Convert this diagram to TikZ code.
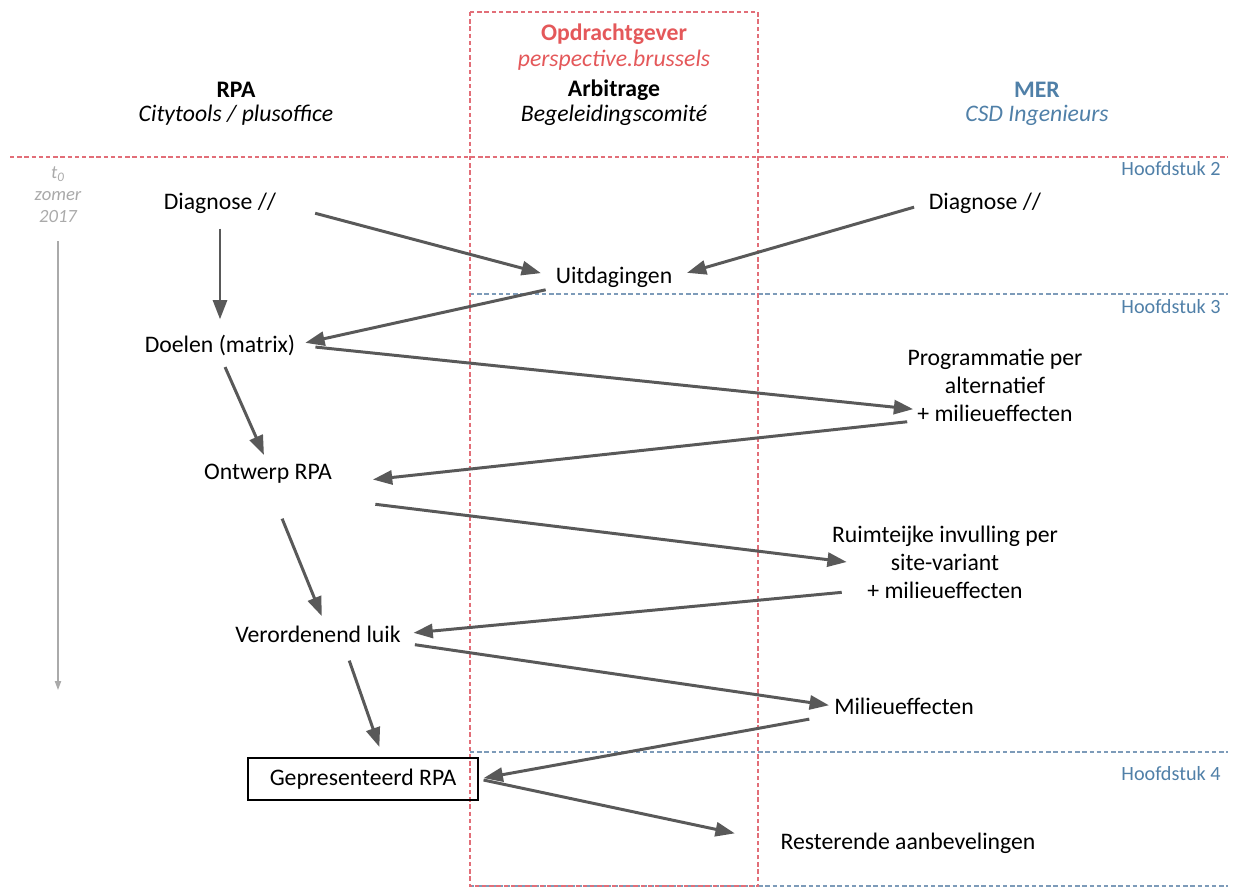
\documentclass[tikz,border=0pt]{standalone}
\usepackage{fontspec}
\setmainfont{Carlito}
\usetikzlibrary{arrows.meta}
\definecolor{arrgray}{RGB}{89,89,89}
\definecolor{opdred}{RGB}{228,88,90}
\definecolor{linered}{RGB}{226,110,120}
\definecolor{merblue}{RGB}{80,128,168}
\definecolor{lineblue}{RGB}{125,155,185}
\definecolor{timegray}{RGB}{170,170,170}

\begin{document}
\begin{tikzpicture}[x=0.02cm,y=-0.02cm,>={Triangle[length=11pt,width=8pt]}]
        \tikzstyle{every node}=[inner sep=0pt,align=center,font=\fontsize{13.5}{16}\selectfont]
        \tikzstyle{every edge}=[draw=arrgray,line width=1.7pt,->]
        \tikzstyle{hoofd}=[anchor=east,text=merblue,font=\fontsize{11.5}{14}\selectfont]
        \tikzstyle{lijn}=[line width=0.6pt,dash pattern=on 2.5pt off 1.6pt]
        \useasboundingbox (0,0) rectangle (1237,888);

        % kaders en hoofdstukken
        \draw[lijn,lineblue] (470,294) -- (1228,294);
        \draw[lijn,lineblue] (470,752) -- (1228,752);
        \draw[lijn,lineblue] (470,886) -- (1228,886);
        \draw[lijn,linered] (10,157) -- (1228,157);
        \draw[lijn,linered] (470,12) rectangle (758,886);
        \node[hoofd] (h2) at (1221,169) {Hoofdstuk 2};
        \node[hoofd] (h3) at (1221,307) {Hoofdstuk 3};
        \node[hoofd] (h4) at (1221,774) {Hoofdstuk 4};

        % koppen
        \node[font=\fontsize{13.5}{16}\bfseries] (rpa) at (236,90) {RPA};
        \node[font=\fontsize{13.5}{16}\itshape] (rpa2) at (236,115) {Citytools / plusoffice};
        \node[text=opdred,font=\fontsize{13.5}{16}\bfseries] (opd) at (614,34) {Opdrachtgever};
        \node[text=opdred,font=\fontsize{13.5}{16}\itshape] (opd2) at (614,60) {perspective.brussels};
        \node[font=\fontsize{13.5}{16}\bfseries] (arb) at (614,90) {Arbitrage};
        \node[font=\fontsize{13.5}{16}\itshape] (arb2) at (614,115) {Begeleidingscomité};
        \node[text=merblue,font=\fontsize{13.5}{16}\bfseries] (mer) at (1037,90) {MER};
        \node[text=merblue,font=\fontsize{13.5}{16}\itshape] (mer2) at (1037,115) {CSD Ingenieurs};

        % tijdlijn
        \node[text=timegray,font=\fontsize{10.6}{12.5}\itshape] (t0) at (58,195) {t\textsubscript{0}\\zomer\\2017};
        \coordinate (tend) at (58,690);
        \draw[timegray,line width=0.7pt,-{Triangle[length=5pt,width=3.5pt]},shorten <=0.36cm] (t0.south) -- (tend);

        \node (l1) at (220,203) {Diagnose //};
        \node (l2) at (220,345) {Doelen (matrix)};
        \node (l3) at (268,474) {Ontwerp RPA};
        \node (l4) at (318,634) {Verordenend luik};
        \node[draw,line width=0.8pt,minimum width=4.6cm,minimum height=0.84cm] (l5) at (363,779) {Gepresenteerd RPA};
        \node (m1) at (614,277) {Uitdagingen};
        \node (r1) at (985,203) {Diagnose //};
        \node (r2) at (995,385) {Programmatie per\\alternatief\\+ milieueffecten};
        \node (r3) at (945,562) {Ruimteijke invulling per\\site-variant\\+ milieueffecten};
        \node (r4) at (904,706) {Milieueffecten};
        \node (r5) at (908,843) {Resterende aanbevelingen};

        \path (l1.east) edge [shorten <=0.8cm,shorten >=0.3cm] (m1.west)
        (r1.west) edge [shorten <=0.3cm,shorten >=0.3cm] (m1.east)
        (l1.south) edge [shorten <=0.3cm,shorten >=0.3cm] (l2.north)
        (m1.south west) edge [shorten <=0.2cm,shorten >=0.2cm] (l2.east)
        (l2.east) edge [shorten <=0.4cm,shorten >=-0.12cm] (r2.195)
        (l2.south) edge [shorten <=0.25cm,shorten >=0.2cm] (l3.north)
        (r2.south west) edge [shorten >=0.82cm] (l3.south east)
        (l3.south) edge [shorten <=0.75cm,shorten >=0.2cm] ([xshift=0.15cm]l4.north)
        ([yshift=-0.5cm]l3.east) edge [shorten <=0.87cm] ([xshift=0.3cm]r3.west)
        ([xshift=0.2cm]r3.195) edge [shorten >=0.25cm] (l4.east)
        ([xshift=0.5cm]l4.south) edge [shorten <=0.38cm,shorten >=0.22cm] ([xshift=0.4cm]l5.north)
        (l4.south east) edge [shorten <=0.28cm,shorten >=0.1cm] (r4.west)
        (r4.south west) edge [shorten <=0.5cm,shorten >=0.1cm] (l5.east)
        (l5.east) edge [shorten <=0.1cm,shorten >=0.93cm] (r5.west);
\end{tikzpicture}
\end{document}
